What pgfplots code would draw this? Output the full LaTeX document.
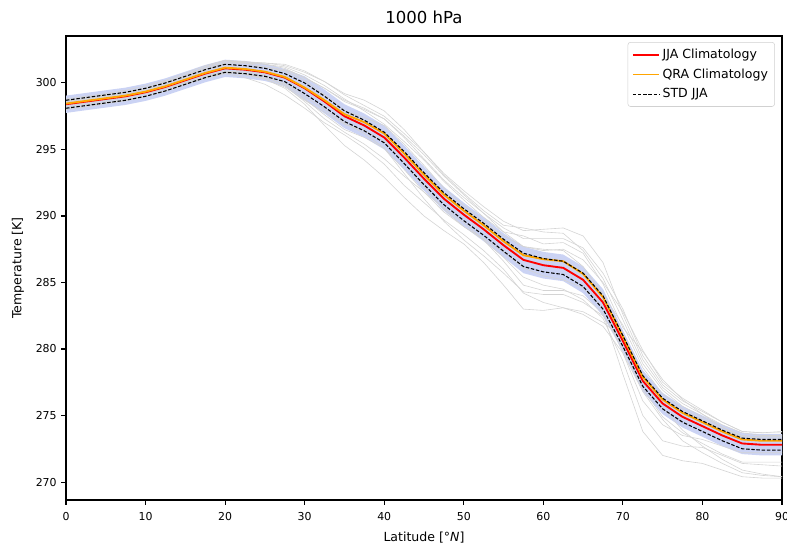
\documentclass[border=0pt]{standalone}
\usepackage{fontspec}
\setmainfont{DejaVu Sans}
\usepackage{pgfplots}
\pgfplotsset{compat=1.18}
\usepackage{pgfplotstable}
\usepgfplotslibrary{fillbetween}

\definecolor{bandblue}{RGB}{203,211,244}
\definecolor{thingray}{RGB}{212,212,212}
\definecolor{mplorange}{RGB}{255,165,0}
\definecolor{mplred}{RGB}{255,0,0}

% lat, JJA climatology, QRA climatology, JJA +/- std, band edges
\pgfplotstableread{
lat  jja    qra    stdu   stdl   bu     bl
0    298.4  298.45 298.7  298.1  299.05 297.75
2.5  298.6  298.65 298.9  298.3  299.25 297.95
5    298.8  298.85 299.1  298.5  299.45 298.15
7.5  299.0  299.05 299.3  298.7  299.65 298.35
10   299.3  299.35 299.6  299.0  299.95 298.65
12.5 299.7  299.75 300.0  299.4  300.35 299.05
15   300.2  300.25 300.5  299.9  300.85 299.55
17.5 300.7  300.75 301.0  300.4  301.35 300.05
20   301.1  301.15 301.4  300.8  301.75 300.45
22.5 301.0  301.05 301.3  300.7  301.65 300.35
25   300.8  300.85 301.1  300.5  301.45 300.15
27.5 300.4  300.45 300.7  300.1  301.05 299.75
30   299.6  299.65 300.0  299.2  300.5  298.7
32.5 298.6  298.7  299.0  298.2  299.5  297.7
35   297.5  297.65 297.9  297.1  298.4  296.6
37.5 296.8  297.05 297.2  296.4  297.7  295.9
40   295.9  296.2  296.3  295.5  296.8  295.0
42.5 294.4  294.7  294.85 293.95 295.3  293.5
45   292.8  293.1  293.25 292.35 293.7  291.9
47.5 291.3  291.6  291.75 290.85 292.2  290.4
50   290.1  290.4  290.55 289.65 291.0  289.2
52.5 289.0  289.3  289.45 288.55 289.9  288.1
55   287.8  288.1  288.25 287.35 288.7  286.9
57.5 286.7  287.05 287.2  286.2  287.7  285.7
60   286.3  286.75 286.8  285.8  287.3  285.3
62.5 286.1  286.6  286.6  285.6  287.1  285.1
65   285.2  285.65 285.7  284.7  286.2  284.2
67.5 283.5  283.9  284.0  283.0  284.5  282.5
70   280.6  280.95 281.0  280.2  281.4  279.8
72.5 277.6  277.9  278.0  277.2  278.4  276.8
75   275.9  276.2  276.3  275.5  276.7  275.1
77.5 274.9  275.2  275.3  274.5  275.7  274.1
80   274.2  274.5  274.6  273.8  275.0  273.4
82.5 273.5  273.8  273.9  273.1  274.3  272.7
85   272.9  273.2  273.3  272.5  273.7  272.1
87.5 272.8  273.1  273.2  272.4  273.6  272.0
90   272.8  273.1  273.2  272.4  273.6  272.0
}\clim

% individual years
\pgfplotstableread{
lat  g1    g2    g3    g4    g5    g6    g7    g8    g9    g10   g11   g12
0    298.6 298.2 298.4 298.7 298.1 298.5 298.3 298.8 298.0 298.4 298.55 298.65
2.5  298.8 298.4 298.6 298.9 298.3 298.75 298.5 299.0 298.2 298.65 298.7 298.85
5    299.05 298.6 298.75 299.1 298.5 299.0 298.7 299.2 298.45 298.9 298.9 299.0
7.5  299.3 298.75 298.9 299.3 298.7 299.2 298.9 299.45 298.65 299.1 299.05 299.2
10   299.6 299.0 299.2 299.65 299.0 299.5 299.2 299.8 299.0 299.4 299.3 299.5
12.5 300.05 299.4 299.6 300.1 299.4 299.95 299.55 300.2 299.4 299.8 299.7 299.9
15   300.6 299.9 300.05 300.6 299.9 300.5 300.0 300.75 299.9 300.35 300.2 300.45
17.5 301.15 300.35 300.5 301.2 300.4 301.05 300.5 301.3 300.4 300.9 300.7 301.0
20   301.6 300.7 300.9 301.7 300.8 301.5 300.9 301.7 300.75 301.35 301.05 301.5
22.5 301.6 300.4 300.7 301.6 300.7 301.5 300.8 301.5 300.6 301.3 300.9 301.5
25   301.5 299.9 300.3 301.4 300.4 301.4 300.5 301.2 300.3 301.2 300.6 301.5
27.5 301.3 299.1 299.6 301.1 299.9 301.2 299.8 300.9 299.7 301.0 300.0 301.4
30   300.8 298.1 298.4 300.4 298.8 300.6 298.6 300.2 298.7 300.4 299.0 300.9
32.5 300.1 297.0 296.8 299.6 297.6 299.8 297.3 299.1 297.8 299.6 298.0 300.1
35   299.1 296.1 295.3 298.7 296.5 298.8 296.3 297.9 296.9 298.6 297.0 299.2
37.5 298.3 295.1 294.2 298.1 295.9 297.9 295.4 297.4 296.4 298.0 296.2 298.7
40   297.5 293.9 292.9 297.3 295.1 296.9 294.3 296.8 295.6 297.3 295.1 297.9
42.5 296.2 292.3 291.4 295.9 293.5 295.6 293.0 295.4 294.0 296.0 293.2 296.5
45   294.8 291.0 290.0 294.3 291.8 294.2 291.8 293.8 292.2 294.6 291.3 294.8
47.5 293.2 289.7 288.9 292.7 290.3 292.6 290.6 292.1 290.5 293.0 289.6 293.1
50   291.9 288.6 287.9 291.4 289.2 291.2 289.5 290.8 289.2 291.6 288.2 291.7
52.5 290.7 287.4 286.5 290.2 288.2 289.9 288.2 289.6 288.3 290.2 287.0 290.4
55   289.6 286.0 284.8 289.1 286.9 288.8 286.6 288.5 287.3 288.8 285.7 289.3
57.5 288.9 284.2 283.0 288.3 285.4 288.5 284.8 287.7 286.1 287.7 284.3 289.1
60   289.0 283.5 282.9 288.3 284.8 287.9 284.4 287.5 285.5 287.4 284.1 288.8
62.5 289.1 283.1 283.1 288.3 284.5 288.0 284.4 287.4 285.2 287.5 284.1 288.7
65   288.5 282.6 282.8 287.6 283.7 287.2 284.0 286.2 284.6 286.7 283.5 287.4
67.5 286.5 281.7 282.0 285.7 282.3 284.9 282.7 284.1 283.1 285.0 282.5 285.3
70   282.6 279.7 280.8 283.0 279.1 281.6 278.1 281.8 279.7 282.8 280.1 282.2
72.5 279.2 276.8 278.0 279.5 275.0 279.8 273.8 278.6 276.1 279.9 277.0 278.9
75   277.1 274.7 275.6 277.3 273.1 277.7 272.0 276.6 274.3 277.5 274.9 276.9
77.5 275.9 273.1 273.9 276.1 272.7 276.2 271.6 275.5 273.5 276.3 273.7 275.7
80   275.1 272.2 272.7 275.3 272.6 275.1 271.4 274.7 273.2 275.4 272.9 274.9
82.5 274.3 271.4 271.7 274.5 272.0 274.1 270.9 273.9 272.7 274.5 272.1 274.1
85   273.7 270.7 270.9 273.8 271.4 273.4 270.4 273.4 272.2 273.8 271.5 273.5
87.5 273.5 270.5 270.6 273.7 271.3 273.3 270.3 273.4 272.2 273.7 271.5 273.4
90   273.5 270.4 270.4 273.7 271.2 273.3 270.3 273.4 272.2 273.8 271.5 273.4
}\years

\begin{document}
\begin{tikzpicture}
\begin{axis}[
  scale only axis,
  width=537pt,
  height=348pt,
  xmin=0, xmax=90,
  ymin=268.65, ymax=303.53,
  xtick={0,10,...,90},
  ytick={270,275,...,300},
  tick pos=left,
  tick align=outside,
  major tick length=3.5pt,
  every tick/.style={black,line width=0.8pt},
  axis line style={black,line width=0.9pt},
  /pgf/number format/assume math mode=true,
  tick label style={font=\fontsize{8.2}{10}\selectfont},
  xticklabel style={yshift=-2pt},
  title={1000 hPa},
  title style={font=\fontsize{12.4}{14}\selectfont,at={(0.5,1)},anchor=south,yshift=-0.5pt},
  xlabel={Latitude [°\textit{N}]},
  ylabel={Temperature [K]},
  label style={font=\fontsize{9.4}{11}\selectfont},
  x label style={at={(axis description cs:0.5,-0.08)},anchor=center},
  y label style={at={(axis description cs:-0.067,0.5)},anchor=center,rotate=0},
  legend style={
    at={(0.99,0.987)},
    anchor=north east,
    draw=black!18,
    rounded corners=2pt,
    font=\fontsize{9.4}{11}\selectfont,
    row sep=2.2pt,
    inner sep=3pt,
  },
  legend cell align=left,
  legend image post style={xscale=1.15},
]
\addplot[thingray,line width=0.45pt,forget plot] table[x=lat,y=g1]{\years};
\addplot[thingray,line width=0.45pt,forget plot] table[x=lat,y=g2]{\years};
\addplot[thingray,line width=0.45pt,forget plot] table[x=lat,y=g3]{\years};
\addplot[thingray,line width=0.45pt,forget plot] table[x=lat,y=g4]{\years};
\addplot[thingray,line width=0.45pt,forget plot] table[x=lat,y=g5]{\years};
\addplot[thingray,line width=0.45pt,forget plot] table[x=lat,y=g6]{\years};
\addplot[thingray,line width=0.45pt,forget plot] table[x=lat,y=g7]{\years};
\addplot[thingray,line width=0.45pt,forget plot] table[x=lat,y=g8]{\years};
\addplot[thingray,line width=0.45pt,forget plot] table[x=lat,y=g9]{\years};
\addplot[thingray,line width=0.45pt,forget plot] table[x=lat,y=g10]{\years};
\addplot[thingray,line width=0.45pt,forget plot] table[x=lat,y=g11]{\years};
\addplot[thingray,line width=0.45pt,forget plot] table[x=lat,y=g12]{\years};

\addplot[name path=bup,draw=none,forget plot] table[x=lat,y=bu]{\clim};
\addplot[name path=blo,draw=none,forget plot] table[x=lat,y=bl]{\clim};
\addplot[fill=bandblue,draw=none,forget plot] fill between[of=bup and blo];

\addplot[mplred,line width=1.4pt] table[x=lat,y=jja]{\clim};
\addlegendentry{JJA Climatology}
\addplot[mplorange,line width=1.4pt] table[x=lat,y=qra]{\clim};
\addlegendentry{QRA Climatology}
\addplot[black,line width=0.8pt,dash pattern=on 2.6pt off 1.3pt] table[x=lat,y=stdu]{\clim};
\addlegendentry{STD JJA}
\addplot[black,line width=0.8pt,dash pattern=on 2.6pt off 1.3pt,forget plot] table[x=lat,y=stdl]{\clim};
\end{axis}
\pgfresetboundingbox
\path[use as bounding box] (-49.5pt,-36.75pt) rectangle (540.75pt,375pt);
\end{tikzpicture}
\end{document}
